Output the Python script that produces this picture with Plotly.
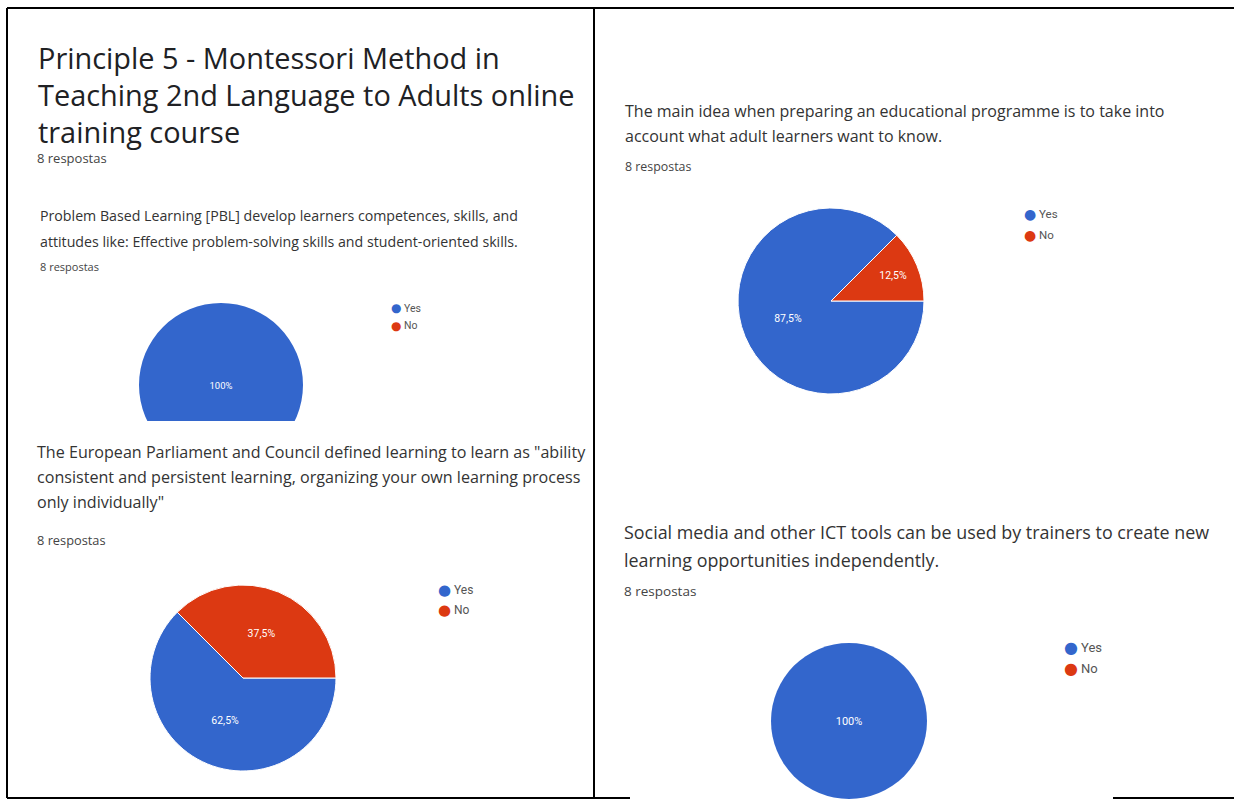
import plotly.graph_objects as go

W, H = 1234, 799

# Survey results (8 respondents per question)
answers = ["Yes", "No"]
colors = ["#3366cc", "#dc3912"]
pbl_counts = [8, 0]
programme_counts = [7, 1]
learning_counts = [5, 3]
ict_counts = [8, 0]

title_lines = [
    "Principle 5 - Montessori Method in",
    "Teaching 2nd Language to Adults online",
    "training course",
]
pbl_question = [
    "Problem Based Learning [PBL] develop learners competences, skills, and",
    "attitudes like: Effective problem-solving skills and student-oriented skills.",
]
programme_question = [
    "The main idea when preparing an educational programme is to take into",
    "account what adult learners want to know.",
]
learning_question = [
    "The European Parliament and Council defined learning to learn as \"ability",
    "consistent and persistent learning, organizing your own learning process",
    "only individually\"",
]
ict_question = [
    "Social media and other ICT tools can be used by trainers to create new",
    "learning opportunities independently.",
]
responses_label = "8 respostas"

SANS = "Open Sans"


def px(x):
    return x / W


def py(y):
    return 1 - y / H


def domain(cx, cy, r):
    return dict(x=[px(cx - r), px(cx + r)], y=[py(cy + r), py(cy - r)])


fig = go.Figure()


def add_pie(counts, cx, cy, r, fsize):
    # a separator line only makes sense when both answers have a slice
    sep = 1 if all(v > 0 for v in counts) else 0
    fig.add_trace(go.Pie(
        labels=answers,
        values=counts,
        sort=False,
        direction="clockwise",
        rotation=90,
        marker=dict(colors=colors, line=dict(color="white", width=sep)),
        texttemplate=["%{percent}" if v > 0 else "" for v in counts],
        textposition="inside",
        insidetextfont=dict(family="Roboto", size=fsize, color="white"),
        domain=domain(cx, cy, r),
        showlegend=False,
        hoverinfo="label+percent",
    ))


add_pie(pbl_counts, 221, 385, 82, 9.5)
add_pie(programme_counts, 831, 301, 93, 10.5)
add_pie(learning_counts, 243, 678, 93, 10.5)
add_pie(ict_counts, 849, 721, 78, 11)

annotations = []


def text_line(s, x, y, size, color, family=SANS):
    annotations.append(dict(
        text=s, x=px(x - 2), y=py(y), xref="paper", yref="paper",
        xanchor="left", yanchor="middle", showarrow=False,
        font=dict(family=family, size=size, color=color),
    ))


def text_block(lines, x, y0, step, size, color, family=SANS):
    for i, s in enumerate(lines):
        text_line(s, x, y0 + i * step, size, color, family)


def legend(x, y0, step, dot, size):
    for i, (name, c) in enumerate(zip(answers, colors)):
        y = y0 + i * step
        annotations.append(dict(
            text="●", x=px(x), y=py(y), xref="paper", yref="paper",
            xanchor="center", yanchor="middle", showarrow=False,
            font=dict(family="DejaVu Sans", size=dot, color=c),
        ))
        text_line(name, x + 2 + dot * 0.5, y, size, "#555555", "Roboto")


# Form header
text_block(title_lines, 38, 57, 37, 28.9, "#202124")
text_line(responses_label, 37, 158, 13, "#444444")

# Question blocks
text_block(pbl_question, 40, 215, 26.5, 14.2, "#333333")
text_line(responses_label, 40, 266, 11, "#444444")
legend(396, 308, 18, 12, 10.5)

text_block(programme_question, 625, 111, 25, 16, "#333333")
text_line(responses_label, 625, 166, 12.4, "#444444")
legend(1030, 214, 21, 14, 11.5)

text_block(learning_question, 37, 452, 25, 16.1, "#333333")
text_line(responses_label, 37, 540, 12.8, "#444444")
legend(444, 590, 20, 15, 12)

text_block(ict_question, 624, 532, 28, 17.9, "#333333")
text_line(responses_label, 624, 591, 13.5, "#444444")
legend(1071, 647, 21, 16, 13)

shapes = [
    # the first chart is cut off at the bottom of its screenshot
    dict(type="rect", xref="paper", yref="paper", x0=px(128), x1=px(316),
         y0=py(470), y1=py(421), fillcolor="white", line=dict(width=0),
         layer="above"),
]

# table borders
border = [
    (7, 8, 1234, 8),
    (7, 8, 7, 798),
    (594, 8, 594, 798),
    (7, 798, 630, 798),
    (1113, 798, 1234, 798),
]
for x0, y0, x1, y1 in border:
    shapes.append(dict(type="line", xref="paper", yref="paper",
                       x0=px(x0), y0=py(y0), x1=px(x1), y1=py(y1),
                       line=dict(color="black", width=2), layer="above"))

fig.update_layout(
    width=W, height=H,
    margin=dict(l=0, r=0, t=0, b=0),
    paper_bgcolor="white",
    plot_bgcolor="white",
    separators=",.",
    annotations=annotations,
    shapes=shapes,
)

fig.write_html("out.html")
